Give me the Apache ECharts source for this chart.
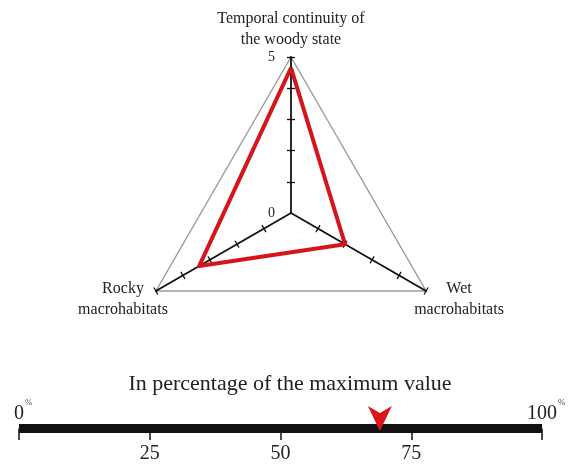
<!DOCTYPE html>
<html><head><meta charset="utf-8">
<script src="https://cdn.jsdelivr.net/npm/echarts@6/dist/echarts.min.js"></script>
<style>html,body{margin:0;padding:0;background:#fff}#c{width:570px;height:464px}</style>
</head><body><div id="c"></div>
<script>
const indicatorNames = ['Temporal continuity of\nthe woody state', 'Rocky\nmacrohabitats', 'Wet\nmacrohabitats'];
const indicatorMax = [5, 5, 5];
const scoreValues = [4.65, 3.4, 2.0];
const radarTickValues = [1, 2, 3, 4, 5];
const radarLabelValues = [0, 5];
const percentMin = 0;
const percentMax = 100;
const percentInterval = 25;
const percentEndLabels = [0, 100];
const percentValue = [69];
const scaleTitle = 'In percentage of the maximum value';

const FONT = 'Liberation Serif';
const CENTER = [291, 213];
const RADIUS = 156;

function makeIndicators(withLabels) {
  return indicatorNames.map((n, i) => {
    const o = { name: n, min: 0, max: indicatorMax[i] };
    if (withLabels && i === 0) {
      o.axisLabel = {
        show: true, margin: 16, color: '#222', fontFamily: FONT, fontSize: 14,
        formatter: v => radarLabelValues.indexOf(v) >= 0 ? String(v) : ''
      };
    }
    return o;
  });
}

// pad with an empty line so that the block sits like the reference labels
function nameFormatter(name) {
  return name === indicatorNames[0] ? '\n' + name : name + '\n';
}

const tickStyle = { color: '#111', width: 1.3 };

const chart = echarts.init(document.getElementById('c'), null, { renderer: 'canvas' });
chart.setOption({
  animation: false,
  backgroundColor: '#fff',
  title: {
    text: scaleTitle, left: 290, top: 373, textAlign: 'center', padding: 0,
    textStyle: { fontFamily: FONT, fontSize: 22, fontWeight: 'normal', color: '#222' }
  },
  radar: [
    {
      center: CENTER, radius: RADIUS, startAngle: 90, shape: 'polygon', splitNumber: 1,
      indicator: makeIndicators(false),
      axisName: {
        color: '#222', fontFamily: FONT, fontSize: 16, lineHeight: 21, align: 'center', verticalAlign: 'middle',
        formatter: nameFormatter
      },
      nameGap: 38,
      axisLine: { show: false }, axisTick: { show: false }, axisLabel: { show: false },
      splitLine: { lineStyle: { color: '#9a9a9a', width: 1.4 } }, splitArea: { show: false }
    },
    {
      center: CENTER, radius: RADIUS, startAngle: 90, shape: 'polygon', splitNumber: 5,
      indicator: makeIndicators(true),
      axisName: { show: false },
      axisLine: { lineStyle: { color: '#111', width: 1.8 } },
      axisTick: { show: true, length: 4, customValues: radarTickValues, lineStyle: tickStyle },
      axisLabel: { show: false },
      splitLine: { show: false }, splitArea: { show: false }
    },
    {
      center: CENTER, radius: RADIUS, startAngle: 90, shape: 'polygon', splitNumber: 5,
      indicator: makeIndicators(false),
      axisName: { show: false },
      axisLine: { show: false },
      axisTick: { show: true, length: -4, customValues: radarTickValues, lineStyle: tickStyle },
      axisLabel: { show: false },
      splitLine: { show: false }, splitArea: { show: false }
    }
  ],
  grid: [
    { left: 19, right: 28, top: 400, height: 28.5 },
    { left: 19, right: 28, top: 400, height: 28.5 }
  ],
  xAxis: [
    {
      gridIndex: 0, type: 'value', min: percentMin, max: percentMax, interval: percentInterval,
      axisLine: { lineStyle: { color: '#111', width: 9, cap: 'butt' } },
      axisTick: { length: 11.5, lineStyle: { color: '#111', width: 1.5 } },
      splitLine: { show: false },
      axisLabel: {
        margin: 15, fontFamily: FONT, fontSize: 20, color: '#222', showMinLabel: true, showMaxLabel: true,
        formatter: v => percentEndLabels.indexOf(v) >= 0 ? '' : String(v)
      }
    },
    {
      gridIndex: 1, type: 'value', min: percentMin, max: percentMax, interval: percentInterval,
      axisLine: { show: false }, axisTick: { show: false }, splitLine: { show: false },
      axisLabel: {
        inside: true, margin: 4.5, showMinLabel: true, showMaxLabel: true,
        formatter: v => percentEndLabels.indexOf(v) >= 0 ? '{s|%}{v|' + v + '}{p|%}' : '',
        rich: {
          v: { fontFamily: FONT, fontSize: 20, color: '#222', lineHeight: 22, verticalAlign: 'bottom' },
          s: { fontFamily: FONT, fontSize: 9, color: 'rgba(0,0,0,0)', lineHeight: 10, padding: [0, 1, 21, 0] },
          p: { fontFamily: FONT, fontSize: 9, color: '#444', lineHeight: 10, padding: [0, 0, 21, 1] }
        }
      }
    }
  ],
  yAxis: [
    { gridIndex: 0, type: 'value', min: 0, max: 1, show: false },
    { gridIndex: 1, type: 'value', min: 0, max: 1, show: false }
  ],
  series: [
    {
      type: 'radar', radarIndex: 1, symbol: 'none', z: 3, silent: true,
      lineStyle: { color: '#d4161c', width: 4 },
      data: [{ value: scoreValues }]
    },
    {
      type: 'scatter', xAxisIndex: 0, yAxisIndex: 0, z: 5, silent: true,
      symbol: 'path://M0,0 L12,7 L24,0 L12,25 Z', symbolSize: [24, 25], symbolOffset: [0, -10],
      itemStyle: { color: '#d9141b', opacity: 1 },
      data: percentValue.map(v => [v, 0])
    }
  ]
});
</script>
</body></html>
